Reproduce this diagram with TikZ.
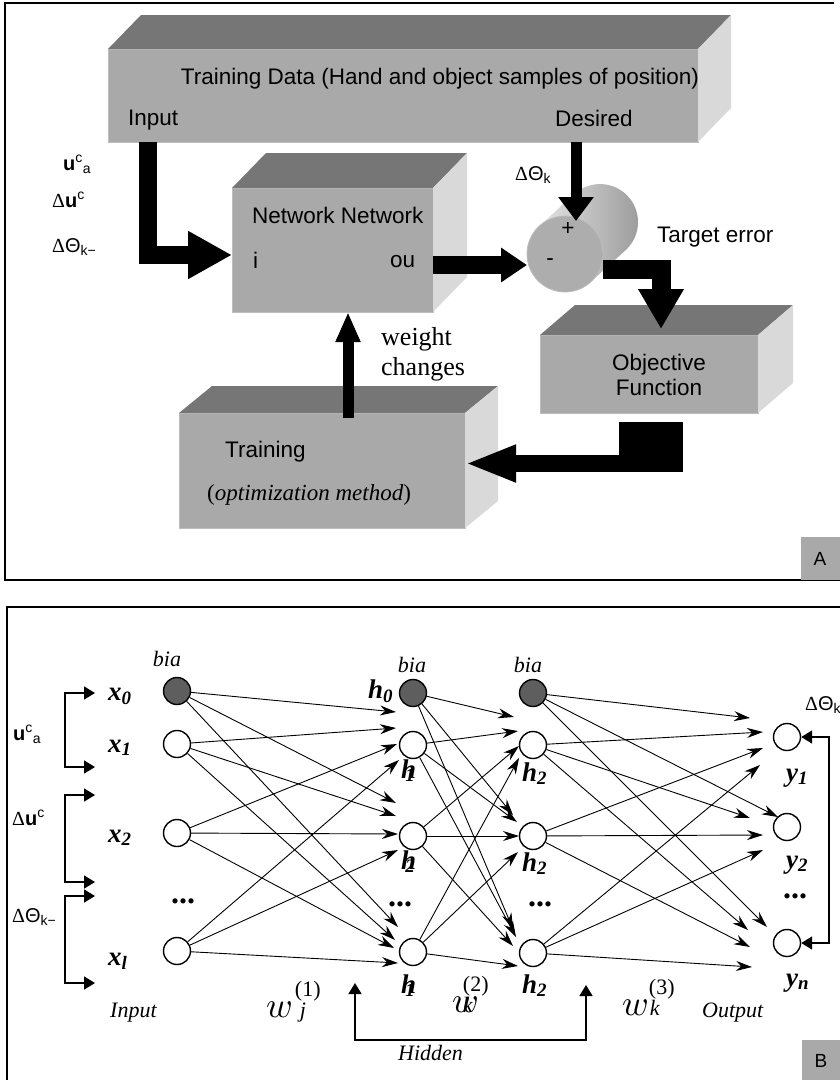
\documentclass[tikz,border=0pt]{standalone}
\usepackage{fontspec}
\usepackage{graphicx}
\setmainfont{Liberation Sans}
\newfontfamily\tms{Liberation Serif}
\usetikzlibrary{arrows.meta,calc}
\definecolor{boxfront}{HTML}{A9A9A9}
\definecolor{boxtop}{HTML}{767676}
\definecolor{boxside}{HTML}{D9D9D9}
\definecolor{boxedge}{HTML}{BDBDBD}
\definecolor{biasfill}{HTML}{5E5E5E}
\definecolor{cyllight}{HTML}{E4E4E4}
\definecolor{cyldark}{HTML}{9A9A9A}
\definecolor{cylfront}{HTML}{ADADAD}
\newcommand{\fsz}[1]{\fontsize{#1}{#1}\selectfont}
\newcommand{\depthfaces}[3]{%
  \fill[boxtop] (#1.north west) -- ++(#2,#3) -- ($(#1.north east)+(#2,#3)$) -- (#1.north east) -- cycle;
  \fill[boxside] (#1.north east) -- ++(#2,#3) -- ($(#1.south east)+(#2,#3)$) -- (#1.south east) -- cycle;}
\newcommand{\wlab}[4]{{\fontsize{10}{10}\selectfont\scalebox{3.6}{$w$}}\hspace*{#3}\rlap{\raisebox{21pt}{\fsz{22}(#1)}}\hspace*{#4}{\fsz{22}\itshape #2}}
\begin{document}
\begin{tikzpicture}[x=1pt,y=-1pt,
  front/.style={fill=boxfront, draw=boxedge, line width=0.8pt, inner sep=0, outer sep=0},
  txA/.style={font=\fsz{22.5}, inner sep=0, anchor=base west},
  txS/.style={font=\fsz{20}, inner sep=0, anchor=base west},
  tmsl/.style={font=\tms\fsz{26}, inner sep=0, anchor=base west},
  lbl/.style={font=\tms\bfseries\itshape\fsz{27}, inner sep=0, anchor=base west},
  itl/.style={font=\tms\itshape\fsz{22}, inner sep=0, anchor=base west},
  dots/.style={font=\tms\bfseries\fsz{32}, inner sep=0, anchor=base},
  neuron/.style={circle, draw, line width=1.4pt, minimum size=27pt, inner sep=0, fill=white},
  bneuron/.style={neuron, fill=biasfill},
  thinarr/.style={line width=0.9pt, -{Stealth[length=16pt,width=10pt]}},
  brk/.style={line width=1.5pt, {Triangle[length=11pt,width=13pt]}-{Triangle[length=11pt,width=13pt]}},
  labbox/.style={fill=boxfront, inner sep=0, font=\fsz{19}}
]
\useasboundingbox (0,0) rectangle (839,1080);

% ================= Panel A =================
\draw[line width=2pt] (834,3) -- (5,3) -- (5,580) -- (841,580);
\node[labbox, minimum width=39pt, minimum height=43pt] (labA) at (820,558.5) {A};

% boxes
\node[front, minimum width=590pt, minimum height=93pt] (tdata) at (403,95.5) {};
\depthfaces{tdata}{33}{-34}
\node[front, minimum width=201pt, minimum height=124pt] (net) at (332.5,250) {};
\depthfaces{net}{34}{-35}
\node[front, minimum width=218pt, minimum height=78pt] (obj) at (649,374) {};
\depthfaces{obj}{35}{-30}
\node[front, minimum width=286pt, minimum height=115pt] (train) at (322,470.5) {};
\depthfaces{train}{33}{-27}

% cylinder (comparator)
\shade[left color=cyllight, right color=cyldark] (539.4,226) -- (574.4,194)
  arc[start angle=-132.4, end angle=47.6, radius=38] -- (590.6,282) -- cycle;
\node[circle, minimum size=76pt, inner sep=0, outer sep=0, fill=cylfront, draw=boxedge, line width=0.8pt] (cyl) at (565,254) {};

% block arrows
\coordinate (inA) at (147.5,142);
\coordinate (inB) at (147.5,255);
\draw[line width=18pt, -{Triangle[length=44pt,width=45pt]}] (inA) -- (inB) -- (inB -| net.west);
\coordinate (nc) at (0,265);
\draw[line width=18pt, -{Triangle[length=26pt,width=33pt]}] (net.east |- nc) -- (cyl.west |- nc);
\coordinate (ds) at (576,221);
\draw[line width=11pt, -{Triangle[length=24pt,width=34pt]}] (tdata.south -| ds) -- (ds);
\coordinate (te1) at (661,269);
\coordinate (te2) at (661,329);
\draw[line width=19pt, -{Triangle[length=40pt,width=43pt]}] (cyl.east |- te1) -- (te1) -- (te2);
\coordinate (wc) at (348,418);
\draw[line width=11pt, -{Triangle[length=30pt,width=23pt]}] (wc) -- (wc |- net.south);
\fill (619,422) rectangle (683,472);
\coordinate (ot) at (683,463.5);
\draw[line width=17pt, -{Triangle[length=51pt,width=34pt]}] (ot) -- (ot -| train.east);

% panel A texts
\node[txA, anchor=base] at (440,84) {Training Data (Hand and object samples of position)};
\node[txA] at (128,125) {Input};
\node[txA] at (555,126) {Desired};
\node[txS] at (63,170) {\textbf{u}\textsuperscript{c}\textsubscript{a}};
\node[txS] at (52,207) {{\tms Δ}\textbf{u}\textsuperscript{c}};
\node[txS] at (52,252) {{\tms Δ}Θ\textsubscript{k−}};
\node[txA] at (252,223) {Network Network};
\node[txA] at (253,268) {i};
\node[txA] at (390,267) {ou};
\node[txS] at (515,180) {{\tms Δ}Θ\textsubscript{k}};
\node[txA, anchor=center] at (568,229) {+};
\node[txA, anchor=center] at (550,262) {-};
\node[txA] at (657,242) {Target error};
\node[tmsl] at (381,345) {weight};
\node[tmsl] at (381,375) {changes};
\node[txA, anchor=base] at (659,370) {Objective};
\node[txA, anchor=base] at (659,395) {Function};
\node[txA] at (225,457) {Training};
\node[tmsl, font=\tms\fsz{23}] at (207,500) {(\textit{optimization method})};

% ================= Panel B =================
\draw[line width=2pt] (841,607) -- (7,607) -- (7,1082);
\node[labbox, minimum width=38pt, minimum height=41pt] (labB) at (821,1060.5) {B};

% neurons
\node[bneuron] (b0) at (177,691) {};
\node[neuron] (x1n) at (177,744) {};
\node[neuron] (x2n) at (177,833) {};
\node[neuron] (xln) at (177,951) {};
\node[bneuron] (hb1) at (413,693) {};
\node[neuron] (h1a) at (413,745) {};
\node[neuron] (h1b) at (413,836) {};
\node[neuron] (h1c) at (413,952) {};
\node[bneuron] (hb2) at (533,693) {};
\node[neuron] (h2a) at (533,745) {};
\node[neuron] (h2b) at (533,836) {};
\node[neuron] (h2c) at (533,953) {};
\node[neuron] (y1) at (787,737) {};
\node[neuron] (y2) at (787,827) {};
\node[neuron] (yn) at (787,943) {};

% connections
\foreach \s/\t/\dx/\dy in {b0/h1a/-17/-33, x1n/h1a/-17/-17, x2n/h1a/-16/-1, xln/h1a/-14/15,
  b0/h1b/-17/-33, x1n/h1b/-17/-20, x2n/h1b/-15/-2, xln/h1b/-15/14,
  b0/h1c/-15/-25, x1n/h1c/-18/-12, x2n/h1c/-19/-4, xln/h1c/-15/11,
  hb1/h2a/-19/-28, h1a/h2a/-15/-14, h1b/h2a/-14/1, h1c/h2a/-14/13,
  hb1/h2b/-20/-21, h1a/h2b/-16/-14, h1b/h2b/-14/0, h1c/h2b/-15/16,
  hb1/h2c/-20/-24, h1a/h2c/-17/-16, h1b/h2c/-20/-7, h1c/h2c/-15/13,
  hb2/y1/-37/-19, h2a/y1/-24/-5, h2b/y1/-24/11, h2c/y1/-27/28,
  hb2/y2/-9/-10, h2a/y2/-37/-9, h2b/y2/-24/8, h2c/y2/-24/23,
  hb2/yn/-20/-16, h2a/yn/-39/-13, h2b/yn/-37/4, h2c/yn/-35/24}
  \draw[thinarr] (\s) -- ($(\t)+(\dx,\dy)$);

% input brackets
\coordinate (ia1) at (95,693);  \coordinate (ia2) at (95,767);
\coordinate (ib1) at (95,795);  \coordinate (ib2) at (95,882);
\coordinate (ic1) at (95,896);  \coordinate (ic2) at (95,983);
\draw[brk] (ia1) -- (65,693) -- (65,767) -- (ia2);
\draw[brk] (ib1) -- (65,795) -- (65,882) -- (ib2);
\draw[brk] (ic1) -- (65,896) -- (65,983) -- (ic2);
\node[txS] at (13,740) {\textbf{u}\textsuperscript{c}\textsubscript{a}};
\node[txS] at (12,825) {{\tms Δ}\textbf{u}\textsuperscript{c}};
\node[txS] at (12,922) {{\tms Δ}Θ\textsubscript{k−}};

% output feedback bracket
\draw[brk] (y1.east) -- ++(28,0) |- (yn.east);
\node[txS] at (805,710) {{\tms Δ}Θ\textsubscript{k}};

% hidden bracket
\coordinate (hk1) at (355,983);
\coordinate (hk2) at (586,985);
\draw[brk] (hk1) -- (355,1040) -- (586,1040) -- (hk2);

% labels
\node[itl, anchor=base] at (167,666) {bia};
\node[itl, anchor=base] at (412,672) {bia};
\node[itl, anchor=base] at (528,672) {bia};
\node[lbl] at (108,700) {x\textsubscript{0}};
\node[lbl] at (108,752) {x\textsubscript{1}};
\node[lbl] at (108,842) {x\textsubscript{2}};
\node[lbl] at (108,965) {x\textsubscript{l}};
\node[lbl] at (368,698) {h\textsubscript{0}};
\node[lbl] at (401,778) {h\hspace{-0.4em}\textsubscript{1}};
\node[lbl] at (401,869) {h\hspace{-0.4em}\textsubscript{2}};
\node[lbl] at (401,993) {h\hspace{-0.4em}\textsubscript{1}};
\node[lbl] at (522,781) {h\textsubscript{2}};
\node[lbl] at (522,871) {h\textsubscript{2}};
\node[lbl] at (522,993) {h\textsubscript{2}};
\node[lbl] at (786,781) {y\textsubscript{1}};
\node[lbl] at (786,868) {y\textsubscript{2}};
\node[lbl] at (786,986) {y\textsubscript{n}};
\node[dots] at (183,903) {...};
\node[dots] at (400,906) {...};
\node[dots] at (540,906) {...};
\node[dots] at (795,898) {...};
\node[itl] at (110,1017) {Input};
\node[itl] at (702,1017) {Output};
\node[itl] at (398,1060) {Hidden};
\node[inner sep=0, anchor=base west, font=\tms] at (266,1017) {\wlab{1}{j}{2pt}{5pt}};
\node[inner sep=0, anchor=base west, font=\tms] at (452,1012) {\wlab{2}{k}{-16pt}{0pt}};
\node[inner sep=0, anchor=base west, font=\tms] at (622,1015) {\wlab{3}{k}{0pt}{1pt}};
\end{tikzpicture}
\end{document}
